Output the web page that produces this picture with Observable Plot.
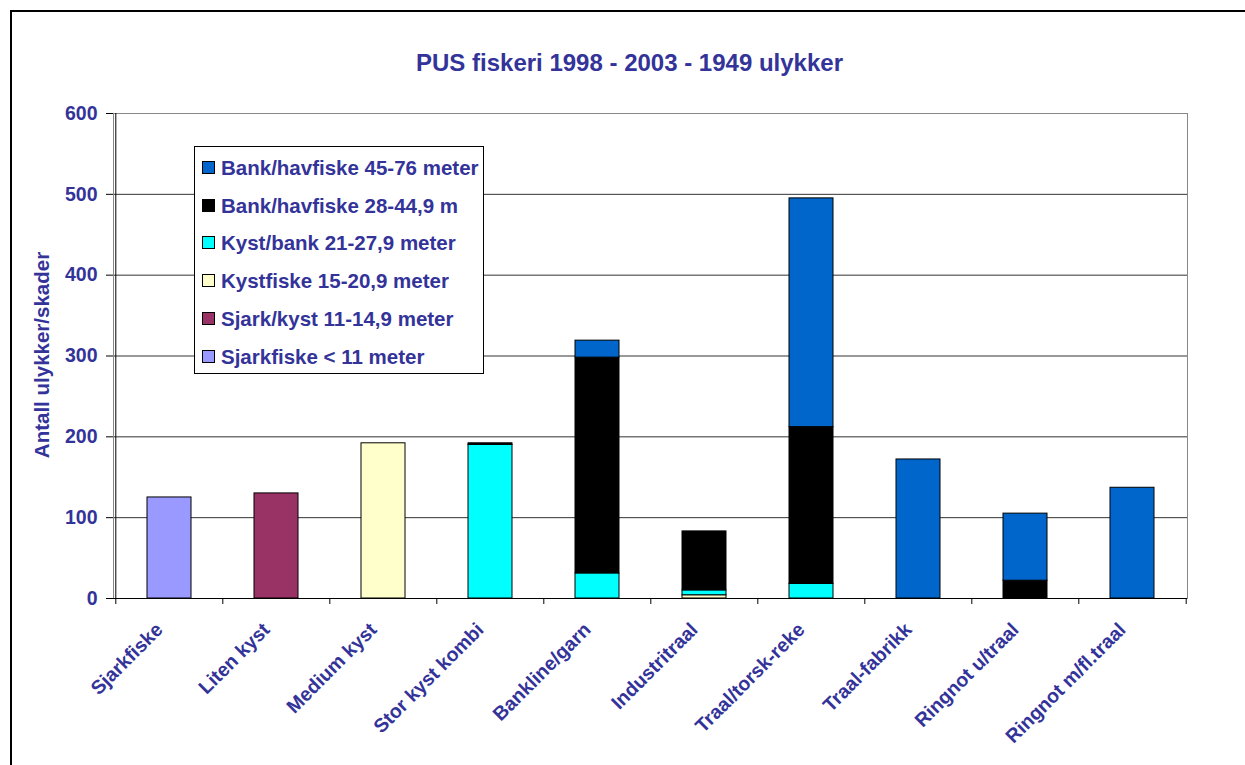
<!DOCTYPE html>
<html>
<head>
<meta charset="utf-8">
<script src="https://cdn.jsdelivr.net/npm/d3@7"></script>
<script src="https://cdn.jsdelivr.net/npm/@observablehq/plot@0.6"></script>
<style>
  html, body { margin:0; padding:0; background:#fff; }
  #wrap { position:relative; width:1245px; height:765px; overflow:hidden; font-family:"Liberation Sans", Arial, sans-serif; font-weight:bold; color:#333399; }
  #frame { position:absolute; left:10px; top:10px; width:1260px; height:800px; border:2px solid #000; box-sizing:border-box; }
  #title { position:absolute; left:0; width:1259px; top:51px; text-align:center; font-size:24px; line-height:24px; }
  #ylabel { position:absolute; left:42px; top:355px; transform:translate(-50%,-50%) rotate(-90deg); font-size:20.5px; white-space:nowrap; }
  #legend { position:absolute; left:194px; top:146px; width:290px; height:228px; border:1px solid #000; background:#fff; box-sizing:border-box; }
  .item { position:absolute; left:7px; font-size:20.5px; white-space:nowrap; line-height:22px; }
  .sw { display:inline-block; width:11px; height:11px; border:1px solid #000; margin-right:6px; vertical-align:1px; }
  #chart { position:absolute; left:0; top:0; }
</style>
</head>
<body>
<div id="wrap">
  <div id="frame"></div>
  <div id="chart"></div>
  <div id="title">PUS fiskeri 1998 - 2003 - 1949 ulykker</div>
  <div id="ylabel">Antall ulykker/skader</div>
  <div id="legend"></div>
</div>
<script>
const categories = ["Sjarkfiske","Liten kyst","Medium kyst","Stor kyst kombi","Bankline/garn","Industritraal","Traal/torsk-reke","Traal-fabrikk","Ringnot u/traal","Ringnot m/fl.traal"];
const seriesNames = ["Sjarkfiske < 11 meter","Sjark/kyst 11-14,9 meter","Kystfiske 15-20,9 meter","Kyst/bank 21-27,9 meter","Bank/havfiske 28-44,9 m","Bank/havfiske 45-76 meter"];
const seriesColors = ["#9999FF","#993366","#FFFFCC","#00FFFF","#000000","#0066CC"];
const sjarkfiske = [125,0,0,0,0,0,0,0,0,0];
const sjarkKyst  = [0,130,0,0,0,0,0,0,0,0];
const kystfiske  = [0,0,192,0,0,4,0,0,0,0];
const kystBank   = [0,0,0,190,31,6,18,0,0,0];
const bank28     = [0,0,0,2,267,73,194,0,22,0];
const bank45     = [0,0,0,0,21,0,283,172,83,137];
const yTicks = [0,100,200,300,400,500,600];

const seriesValues = [sjarkfiske, sjarkKyst, kystfiske, kystBank, bank28, bank45];
const data = [];
seriesValues.forEach((vals, s) => vals.forEach((v, i) => { if (v > 0) data.push({cat: categories[i], series: seriesNames[s], value: v}); }));

const W = 1245, H = 765, mL = 113, mR = 58, mT = 113, mB = 167;
const bw = (W - mL - mR) / categories.length;

const chart = Plot.plot({
  width: W, height: H,
  marginLeft: mL, marginRight: mR, marginTop: mT, marginBottom: mB,
  style: {fontFamily: "Liberation Sans, Arial, sans-serif", fontWeight: "bold", fontSize: "19.5px", color: "#333399", background: "transparent", overflow: "visible"},
  x: {domain: categories, paddingInner: 0.59, paddingOuter: 0.295, label: null},
  y: {domain: [0, 600], label: null},
  color: {domain: seriesNames, range: seriesColors},
  marks: [
    Plot.ruleY([100,200,300,400,500], {stroke: "#333", strokeOpacity: 1}),
    Plot.frame({stroke: "#888"}),
    Plot.barY(data, {x: "cat", y: "value", fill: "series", z: "series", order: seriesNames, stroke: "#000", strokeWidth: 1}),
    Plot.ruleY([0], {stroke: "#000"}),
    Plot.ruleX([categories[0]], {x: d => d, y1: 600, y2: 0, dx: -bw/2, insetBottom: -6, stroke: "#000"}),
    Plot.ruleX(categories.slice(1), {x: d => d, y1: 0, y2: 0, dx: -bw/2, insetBottom: -6, stroke: "#000"}),
    Plot.ruleX([categories[categories.length-1]], {x: d => d, y1: 0, y2: 0, dx: bw/2, insetBottom: -6, stroke: "#000"}),
    Plot.axisY({ticks: yTicks, tickSize: 7, tickPadding: 9, label: null, fontSize: 19.5, fontWeight: "bold", fill: "#333399", stroke: "#000"}),
    Plot.axisX({tickRotate: -45, tickSize: 0, tickPadding: 28, dx: -10, label: null, fontSize: 19.5, fontWeight: "bold", fill: "#333399", stroke: "#333399", strokeWidth: 0.4})
  ]
});
document.getElementById("chart").appendChild(chart);

const legend = document.getElementById("legend");
const order = seriesNames.slice().reverse();
const colors = seriesColors.slice().reverse();
order.forEach((name, i) => {
  const d = document.createElement("div");
  d.className = "item";
  d.style.top = (10 + i * 37.7) + "px";
  d.innerHTML = `<span class="sw" style="background:${colors[i]}"></span>${name}`;
  legend.appendChild(d);
});
</script>
</body>
</html>
